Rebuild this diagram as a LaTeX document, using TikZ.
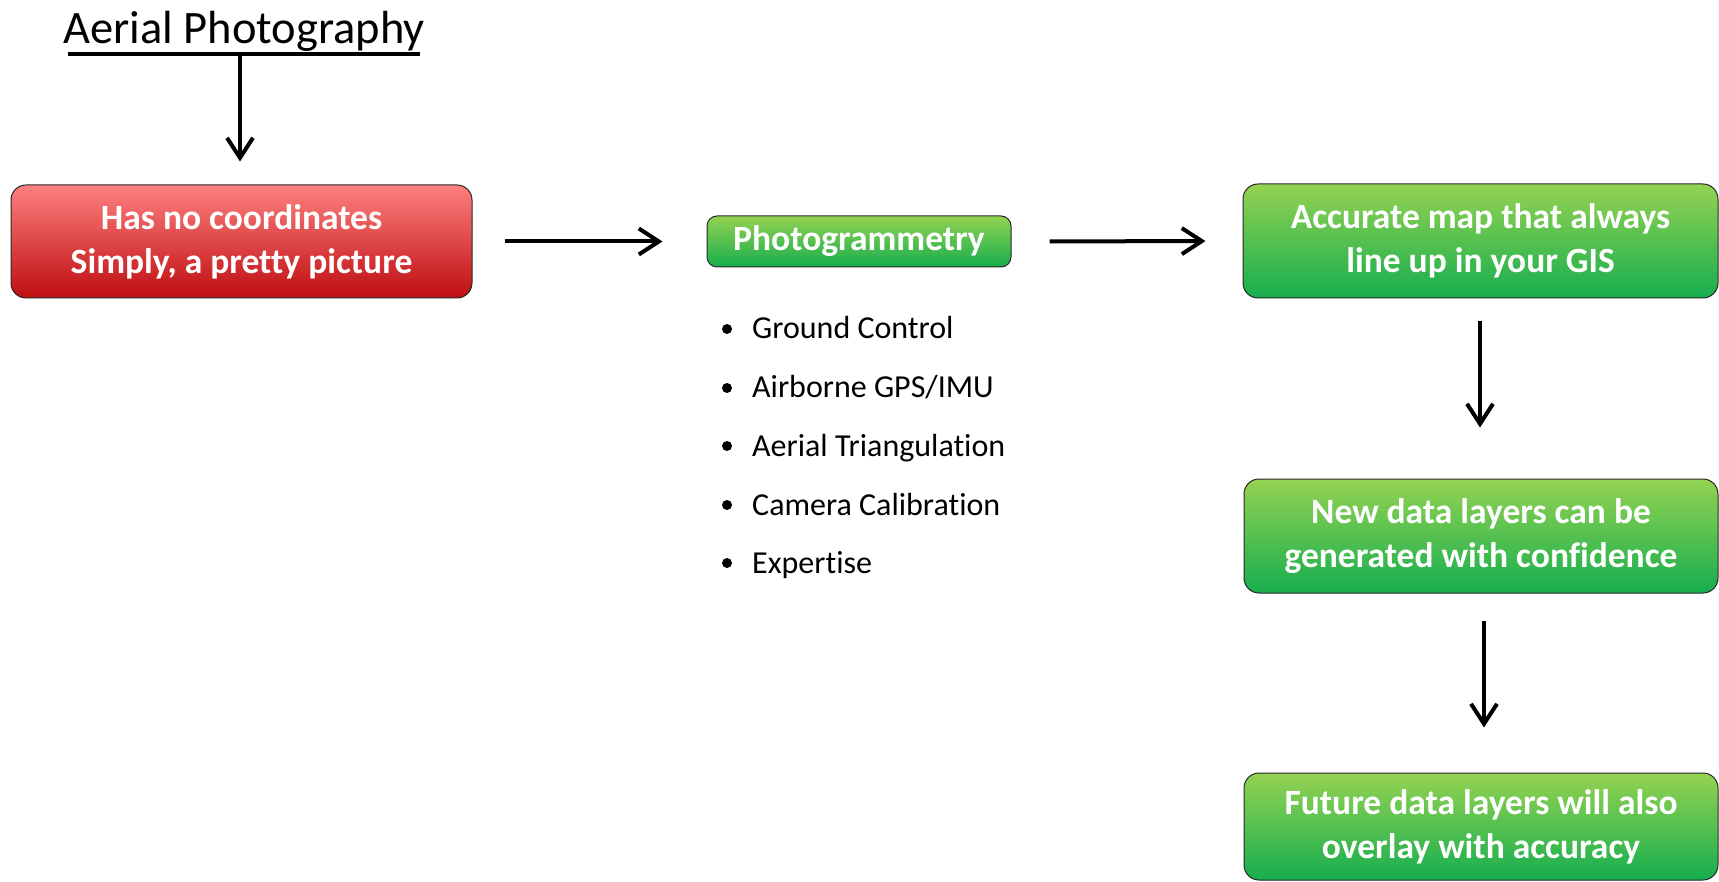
\documentclass[tikz,border=0pt]{standalone}
\usepackage{fontspec}
\setmainfont{Carlito}[Ligatures={NoCommon}]
\usetikzlibrary{arrows.meta,calc}

\definecolor{redtop}{RGB}{254,128,128}
\definecolor{redbot}{RGB}{190,14,16}
\definecolor{greentop}{RGB}{148,210,82}
\definecolor{greenbot}{RGB}{22,174,78}
\definecolor{edgegray}{RGB}{40,40,40}

\tikzset{
  box/.style={rounded corners=15pt, draw=edgegray, line width=1pt,
    text=white, font=\bfseries\fontsize{35.5}{44}\selectfont,
    align=center, inner sep=0pt},
  redbox/.style={box, top color=redtop, bottom color=redbot},
  greenbox/.style={box, top color=greentop, bottom color=greenbot},
  flow/.style={line width=4pt, -{Straight Barb[length=20pt,width=26pt]}},
  itemtext/.style={anchor=base west, inner sep=0pt,
    font=\fontsize{32}{38}\selectfont},
  dot/.style={circle, fill=black, inner sep=0pt, minimum size=10pt},
}

\begin{document}
\begin{tikzpicture}[x=1pt,y=-1pt]
  \useasboundingbox (0,0) rectangle (1719,882);

  % heading with its underline
  \node[anchor=base, inner sep=0pt, font=\fontsize{46.5}{56}\selectfont]
    (title) at (244,43.5) {Aerial Photography};
  \coordinate (ulL) at (68,54.5);
  \coordinate (ulR) at (420,54.5);
  \coordinate (ulM) at (240,54.5);
  \draw[line width=4pt] (ulL) -- (ulR);

  % boxes
  \node[redbox, minimum width=461pt, minimum height=113pt]
    (raw) at (241.5,241.5) {Has no coordinates\\Simply, a pretty picture};
  \node[greenbox, rounded corners=10pt, minimum width=304pt, minimum height=51pt]
    (photo) at (859,241.5) {Photogrammetry};
  \node[greenbox, minimum width=475pt, minimum height=114pt]
    (map) at (1480.5,241) {Accurate map that always\\line up in your GIS};
  \node[greenbox, minimum width=474pt, minimum height=114pt]
    (newdata) at (1481,536) {New data layers can be\\generated with confidence};
  \node[greenbox, minimum width=474pt, minimum height=107pt]
    (future) at (1481,826.5) {Future data layers will also\\overlay with accuracy};

  % photogrammetry ingredients
  \foreach \t/\y [count=\i] in {{Ground Control}/339, {Airborne GPS/IMU}/398,
      {Aerial Triangulation}/456, {Camera Calibration}/515, {Expertise}/573}{
    \node[dot] (d\i) at (727,\y-10) {};
    \node[itemtext] (item\i) at (752,\y) {\t};
  }

  % connectors
  \draw[flow, shorten >=23pt] (ulM) -- ([xshift=-1.5pt]raw.north);
  \draw[flow, shorten <=32pt, shorten >=44pt] (raw.east) -- (photo.west);
  \draw[flow, shorten <=38pt, shorten >=37pt] (photo.east) -- (map.west);
  \draw[flow, shorten <=23pt, shorten >=51pt]
    ([xshift=-0.5pt]map.south) -- ([xshift=-1pt]newdata.north);
  \draw[flow, shorten <=27pt, shorten >=45pt]
    ([xshift=3pt]newdata.south) -- ([xshift=3pt]future.north);
\end{tikzpicture}
\end{document}
